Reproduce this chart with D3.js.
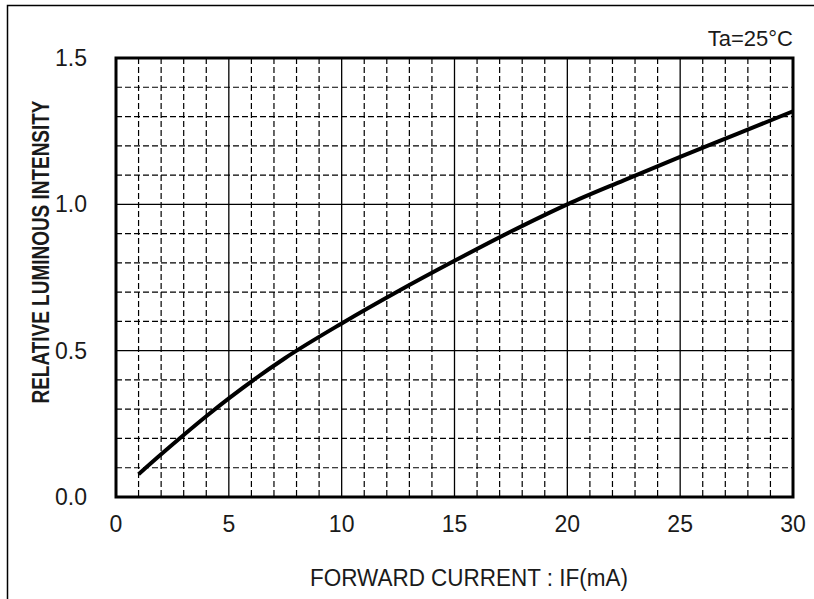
<!DOCTYPE html>
<html>
<head>
<meta charset="utf-8">
<script src="https://cdn.jsdelivr.net/npm/d3@7"></script>
<style>
  body { margin: 0; background: #fff; }
  text { font-family: "Liberation Sans", Arial, sans-serif; fill: #1a1a1a; }
</style>
</head>
<body>
<svg width="814" height="599"></svg>
<script>
// forward current IF (mA) and relative luminous intensity
const current = [1,2,3,4,5,7.5,10,12.5,15,17.5,20,22.5,25,27.5,30];
const intensity = [0.078,0.146,0.212,0.276,0.337,0.475,0.593,0.703,0.807,0.907,1.0,1.082,1.162,1.24,1.318];
const xTicks = [0,5,10,15,20,25,30];
const yTicks = [0.0,0.5,1.0,1.5];

const svg = d3.select("svg");
const plotL = 116, plotR = 793, plotT = 58, plotB = 497;

const x = d3.scaleLinear().domain([0,30]).range([plotL,plotR]);
const y = d3.scaleLinear().domain([0,1.5]).range([plotB,plotT]);

// outer frame (only left and top edges show)
svg.append("path")
  .attr("d", `M7.5,599 L7.5,5.5 L814,5.5`)
  .attr("fill","none").attr("stroke","#000").attr("stroke-width",1.5);

const grid = svg.append("g");

// minor grid, dashed
grid.selectAll(".vminor")
  .data(d3.range(1,30).filter(d => d % 5 !== 0))
  .enter().append("line")
  .attr("x1", d => x(d)).attr("x2", d => x(d))
  .attr("y1", plotT).attr("y2", plotB)
  .attr("stroke","#000").attr("stroke-width",1.2).attr("stroke-dasharray","6,3");

grid.selectAll(".hminor")
  .data(d3.range(1,15).filter(d => d % 5 !== 0).map(d => d/10))
  .enter().append("line")
  .attr("x1", plotL).attr("x2", plotR)
  .attr("y1", d => y(d)).attr("y2", d => y(d))
  .attr("stroke","#000").attr("stroke-width",1.2).attr("stroke-dasharray","6,3");

// major grid, solid
grid.selectAll(".vmajor")
  .data(xTicks.slice(1,-1))
  .enter().append("line")
  .attr("x1", d => x(d)).attr("x2", d => x(d))
  .attr("y1", plotT).attr("y2", plotB)
  .attr("stroke","#000").attr("stroke-width",1.3);

grid.selectAll(".hmajor")
  .data(yTicks.slice(1,-1))
  .enter().append("line")
  .attr("x1", plotL).attr("x2", plotR)
  .attr("y1", d => y(d)).attr("y2", d => y(d))
  .attr("stroke","#000").attr("stroke-width",1.3);

// plot frame
svg.append("rect")
  .attr("x", plotL).attr("y", plotT)
  .attr("width", plotR-plotL).attr("height", plotB-plotT)
  .attr("fill","none").attr("stroke","#000").attr("stroke-width",3);

// curve
const line = d3.line()
  .x((d,i) => x(current[i]))
  .y(d => y(d))
  .curve(d3.curveMonotoneX);

svg.append("path")
  .datum(intensity)
  .attr("d", line)
  .attr("fill","none").attr("stroke","#000").attr("stroke-width",4);

// tick labels
svg.selectAll(".xt")
  .data(xTicks)
  .enter().append("text")
  .attr("x", d => x(d)).attr("y", 524)
  .attr("text-anchor","middle").attr("dominant-baseline","central")
  .attr("font-size", 23)
  .text(d => d);

svg.selectAll(".yt")
  .data(yTicks)
  .enter().append("text")
  .attr("x", 87).attr("y", d => y(d))
  .attr("text-anchor","end").attr("dominant-baseline","central")
  .attr("font-size", 23)
  .text(d => d.toFixed(1));

// axis titles
svg.append("text")
  .attr("transform", "translate(49,252) rotate(-90)")
  .attr("text-anchor","middle")
  .attr("font-size", 23).attr("font-weight","bold")
  .attr("textLength", 303).attr("lengthAdjust","spacingAndGlyphs")
  .text("RELATIVE LUMINOUS INTENSITY");

svg.append("text")
  .attr("x", 310).attr("y", 586)
  .attr("font-size", 23)
  .attr("textLength", 318).attr("lengthAdjust","spacingAndGlyphs")
  .text("FORWARD CURRENT : IF(mA)");

svg.append("text")
  .attr("x", 793).attr("y", 46)
  .attr("text-anchor","end")
  .attr("font-size", 22)
  .text("Ta=25°C");
</script>
</body>
</html>
